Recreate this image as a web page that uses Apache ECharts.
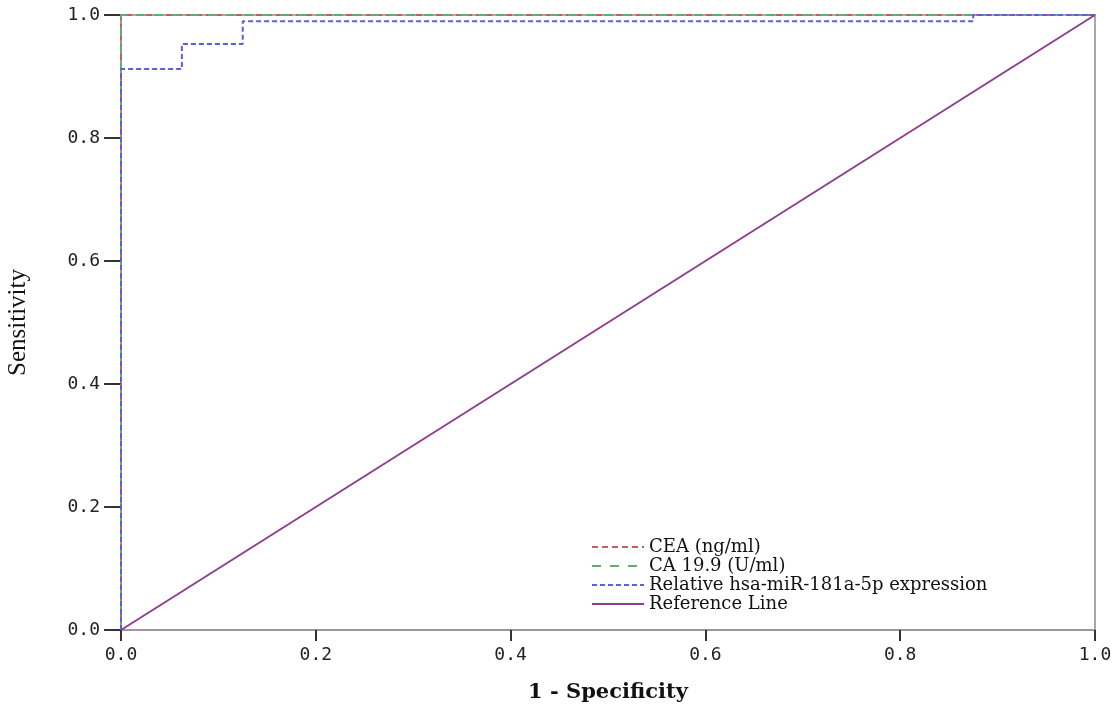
<!DOCTYPE html>
<html>
<head>
<meta charset="utf-8" />
<title>ROC curves</title>
<style type="text/css">
body,div{margin:0;padding:0;}
#chart{width:1117px;height:706px;}
</style>
<script src="https://cdn.jsdelivr.net/npm/echarts@6/dist/echarts.min.js"></script>
</head>
<body>
<div id="chart"></div>
<script type="text/javascript">
// ROC points: [1 - specificity, sensitivity]
var ceaPoints = [[0, 0], [0, 1], [1, 1]];
var ca199Points = [[0, 0], [0, 1], [1, 1]];
var mirPoints = [[0, 0], [0, 0.912], [0.0625, 0.912], [0.0625, 0.953], [0.125, 0.953],
                 [0.125, 0.99], [0.875, 0.99], [0.875, 1], [1, 1]];
var refPoints = [[0, 0], [1, 1]];
var seriesNames = ['CEA (ng/ml)', 'CA 19.9 (U/ml)', 'Relative hsa-miR-181a-5p expression', 'Reference Line'];

var chart = echarts.init(document.getElementById('chart'));

function lineSeries(name, data, color, type, width) {
    return {
        name: name,
        type: 'line',
        data: data,
        symbol: 'none',
        animation: false,
        lineStyle: {color: color, width: width, type: type},
        itemStyle: {color: color}
    };
}

var axisLabel = {
    color: '#222',
    fontFamily: 'DejaVu Sans Mono',
    fontSize: 18,
    formatter: function (v) { return v.toFixed(1); }
};

var option = {
    backgroundColor: '#fff',
    grid: {left: 121, right: 22, top: 15, bottom: 76, outerBoundsMode: 'none',
           show: true, borderColor: '#a8a8a8', borderWidth: 2},
    legend: {
        orient: 'vertical',
        left: 586,
        top: 533,
        itemWidth: 52,
        itemHeight: 14,
        itemGap: 1,
        data: seriesNames,
        itemStyle: {opacity: 0},
        textStyle: {fontFamily: 'DejaVu Serif', fontSize: 18, color: '#111'}
    },
    xAxis: {
        type: 'value',
        min: 0, max: 1, interval: 0.2,
        name: '1 - Specificity',
        nameLocation: 'middle',
        nameGap: 52,
        nameTextStyle: {fontFamily: 'DejaVu Serif', fontWeight: 'bold', fontSize: 21, color: '#111'},
        axisLine: {lineStyle: {color: '#999', width: 2}},
        axisTick: {length: 11, lineStyle: {color: '#333', width: 2}},
        axisLabel: Object.assign({margin: 16}, axisLabel),
        splitLine: {show: false}
    },
    yAxis: {
        type: 'value',
        min: 0, max: 1, interval: 0.2,
        name: 'Sensitivity',
        nameLocation: 'middle',
        nameGap: 90,
        nameTextStyle: {fontFamily: 'Liberation Serif', fontSize: 25, color: '#111'},
        axisLine: {show: true, lineStyle: {color: '#999', width: 2}},
        axisTick: {show: true, length: 17, lineStyle: {color: '#333', width: 2}},
        axisLabel: Object.assign({margin: 21}, axisLabel),
        splitLine: {show: false}
    },
    series: [
        lineSeries(seriesNames[0], ceaPoints, '#c0605e', [6, 4], 2),
        lineSeries(seriesNames[1], ca199Points, '#5cae72', [9, 9], 2),
        lineSeries(seriesNames[2], mirPoints, '#5a5ee0', [5, 3], 2),
        lineSeries(seriesNames[3], refPoints, '#8d3f90', 'solid', 2)
    ]
};
chart.setOption(option);
</script>
</body>
</html>
